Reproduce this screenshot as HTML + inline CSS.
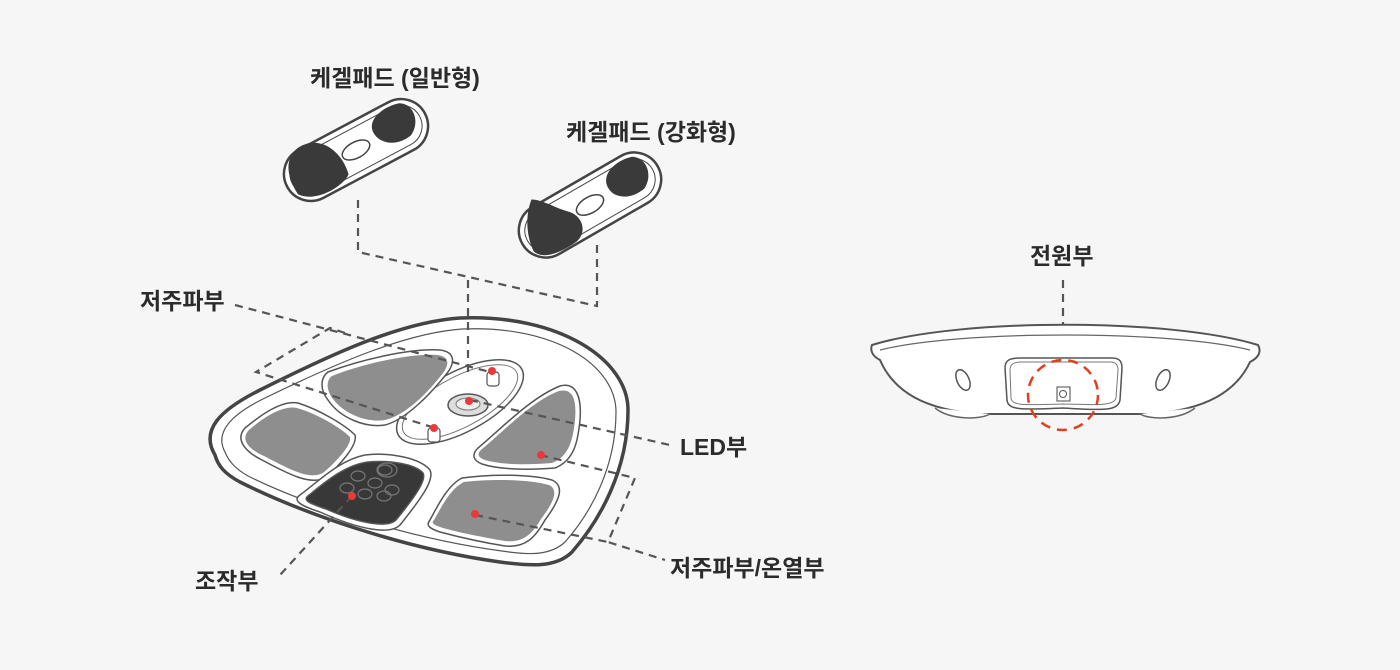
<!DOCTYPE html>
<html><head><meta charset="utf-8"><style>
html,body{margin:0;padding:0;background:#f6f6f6;}
svg{display:block}
text{font-family:"Liberation Sans","Noto Sans CJK KR",sans-serif;font-weight:bold;fill:#2b2b2b;font-size:23px}
</style></head><body>
<svg width="1400" height="670" viewBox="0 0 1400 670" xmlns="http://www.w3.org/2000/svg">
<rect width="1400" height="670" fill="#f6f6f6"/>

<!-- labels -->
<text x="310" y="86">케겔패드 (일반형)</text>
<text x="566" y="140">케겔패드 (강화형)</text>
<text x="140" y="309">저주파부</text>
<text x="680" y="455">LED부</text>
<text x="670" y="576">저주파부/온열부</text>
<text x="195" y="589">조작부</text>
<text x="1030" y="264">전원부</text>

<!-- kegel pad 1 -->
<g transform="translate(356,150) rotate(-28)">
  <rect x="-78" y="-27" width="156" height="54" rx="27" fill="#fff" stroke="#444" stroke-width="2.5"/>
  <rect x="-72" y="-21" width="144" height="42" rx="21" fill="none" stroke="#444" stroke-width="1"/>
  <path d="M-72,12 C-75,-20 -58,-34 -38,-28 C-20,-22 -14,0 -18,18 C-28,26 -60,28 -72,12Z" fill="#3a3a3a"/>
  <path d="M26,2 C16,-18 38,-27 60,-21 C73,-14 70,6 55,13 C44,15 32,12 26,2Z" fill="#3a3a3a"/>
  <ellipse cx="0" cy="0" rx="15" ry="8" fill="#fff" stroke="#444" stroke-width="1.5"/>
</g>
<!-- kegel pad 2 -->
<g transform="translate(590,205) rotate(-30)">
  <rect x="-78" y="-27" width="156" height="54" rx="27" fill="#fff" stroke="#444" stroke-width="2.5"/>
  <rect x="-72" y="-21" width="144" height="42" rx="21" fill="none" stroke="#444" stroke-width="1"/>
  <path d="M-72,12 C-70,-10 -58,-26 -48,-34 C-38,-28 -32,-15 -22,-5 C-12,5 -15,22 -30,25 C-50,27 -68,24 -72,12Z" fill="#3a3a3a"/>
  <path d="M26,2 C18,-18 40,-27 60,-21 C73,-14 70,6 55,13 C44,15 32,12 26,2Z" fill="#3a3a3a"/>
  <ellipse cx="0" cy="0" rx="15" ry="8" fill="#fff" stroke="#444" stroke-width="1.5"/>
</g>

<!-- main device -->
<path d="M215,455 C200,430 220,410 260,390 C330,355 400,322 460,318 C560,314 628,360 628,410 C628,470 600,520 572,552 C556,568 530,566 500,562 C400,548 300,512 240,482 C225,474 218,466 215,455Z" fill="#fff" stroke="#444" stroke-width="3.5"/>
<path d="M225,452 C214,432 232,414 265,398 C335,364 405,333 462,329 C556,325 616,366 616,412 C616,468 590,514 565,542 C550,556 528,555 502,551 C405,538 305,504 248,476 C236,469 229,462 225,452Z" fill="none" stroke="#555" stroke-width="1.2"/>

<!-- central oval -->
<g transform="translate(460,402) rotate(-28)">
  <ellipse rx="70" ry="30" fill="#fff" stroke="#555" stroke-width="1.5"/>
  <ellipse rx="64" ry="25" fill="none" stroke="#777" stroke-width="1"/>
</g>
<ellipse cx="468" cy="405" rx="20" ry="11" fill="#ddd" stroke="#555" stroke-width="1.5"/>
<ellipse cx="468" cy="404" rx="12" ry="6" fill="#eee" stroke="#777" stroke-width="1"/>
<rect x="487" y="372" width="12" height="14" rx="3" fill="#fff" stroke="#555" stroke-width="1.2"/>
<rect x="428" y="428" width="12" height="14" rx="3" fill="#fff" stroke="#555" stroke-width="1.2"/>

<!-- pads -->
<g stroke="#555" stroke-width="1.5" stroke-linejoin="round">
<path d="M328,372 C360,360 410,348 440,350 C455,352 455,362 448,372 C430,395 405,420 385,425 C365,428 340,418 328,400 C320,390 320,378 328,372Z" fill="#fff"/>
<path d="M332,376 C362,364 410,353 438,355 C450,357 449,365 443,373 C427,394 404,416 385,420 C367,423 344,414 333,399 C326,390 326,380 332,376Z" fill="#8e8e8e" stroke="none"/>
<path d="M245,428 C262,414 282,400 298,403 C320,410 345,425 355,435 C358,445 340,465 325,478 C310,485 290,475 262,460 C242,450 236,438 245,428Z" fill="#fff"/>
<path d="M249,430 C264,417 283,405 297,408 C318,414 341,428 350,437 C352,445 336,462 323,473 C309,480 291,470 264,456 C246,448 241,438 249,430Z" fill="#8e8e8e" stroke="none"/>
<path d="M300,495 C320,480 340,460 365,455 C390,452 420,458 430,470 C435,480 420,500 400,525 C390,535 360,530 320,512 C298,505 293,500 300,495Z" fill="#fff"/>
<path d="M308,496 C325,482 345,465 368,462 C390,460 415,464 423,473 C427,480 414,498 396,520 C388,528 360,524 326,509 C308,503 303,500 308,496Z" fill="#383838" stroke="#555"/>
<path d="M478,448 C500,430 530,398 560,386 C575,382 582,395 580,420 C578,440 575,460 555,468 C530,470 500,470 482,464 C472,460 472,454 478,448Z" fill="#fff"/>
<path d="M482,449 C504,431 532,401 559,391 C572,388 577,398 575,420 C573,438 570,456 552,463 C528,465 502,465 485,460 C477,457 477,453 482,449Z" fill="#8e8e8e" stroke="none"/>
<path d="M430,520 C438,505 448,485 462,478 C490,474 530,474 552,480 C565,486 560,500 545,520 C535,538 525,548 505,546 C480,542 455,536 440,532 C428,528 426,525 430,520Z" fill="#fff"/>
<path d="M434,520 C442,506 451,488 464,482 C491,479 528,479 549,485 C559,490 554,502 541,519 C532,535 522,543 505,541 C481,537 457,532 443,528 C433,525 431,523 434,520Z" fill="#8e8e8e" stroke="none"/>
</g>
<!-- control buttons -->
<g fill="none" stroke="#777" stroke-width="1.2">
<ellipse cx="358" cy="476" rx="7" ry="5"/><ellipse cx="385" cy="470" rx="7" ry="5"/>
<ellipse cx="347" cy="488" rx="7" ry="5"/><ellipse cx="375" cy="483" rx="7" ry="5"/>
<ellipse cx="365" cy="494" rx="7" ry="5"/><ellipse cx="392" cy="490" rx="7" ry="5"/>
<ellipse cx="384" cy="496" rx="7" ry="5"/><ellipse cx="387" cy="470" rx="10" ry="7"/>
</g>

<!-- dashed lines -->
<g fill="none" stroke="#555" stroke-width="2.2" stroke-dasharray="8,6">
<polyline points="358,200 358,252 597,306 597,244"/>
<line x1="468" y1="280" x2="468" y2="372"/>
<line x1="235" y1="305" x2="490" y2="372"/>
<polyline points="345,333 330,328 256,372 435,428"/>
<line x1="470" y1="400" x2="670" y2="445"/>
<polyline points="540,455 635,478 608,542 665,560"/>
<line x1="475" y1="515" x2="608" y2="542"/>
<line x1="352" y1="496" x2="280" y2="575"/>
<line x1="1063" y1="280" x2="1063" y2="392"/>
</g>
<!-- red dots -->
<g fill="#e83a3a">
<circle cx="492" cy="371" r="4"/><circle cx="469" cy="401" r="4"/><circle cx="434" cy="428" r="4"/>
<circle cx="541" cy="455" r="4"/><circle cx="475" cy="514" r="4"/><circle cx="352" cy="496" r="4"/>
</g>

<!-- right device -->
<path d="M872,345 C960,318 1170,318 1258,345 C1262,352 1258,358 1250,362 C1236,392 1205,410 1150,414 L980,414 C925,410 894,392 880,360 C872,356 870,350 872,345Z" fill="#fff" stroke="#555" stroke-width="2"/>
<path d="M880,350 C960,330 1170,330 1250,350" fill="none" stroke="#666" stroke-width="1.2"/>
<path d="M935,408 C950,420 980,420 990,414 M1140,414 C1150,420 1180,420 1195,408" fill="#fff" stroke="#666" stroke-width="1.5"/>
<path d="M1005,368 C1005,360 1010,358 1020,358 L1112,358 C1120,358 1122,362 1122,368 L1120,400 C1118,412 1100,410 1063,408 C1020,410 1008,410 1007,400Z" fill="#fff" stroke="#555" stroke-width="1.5"/>
<path d="M1010,370 C1010,364 1014,362 1022,362 L1110,362 C1116,362 1118,365 1118,370 L1116,398 C1114,406 1098,405 1063,404 C1024,405 1012,406 1011,398Z" fill="none" stroke="#777" stroke-width="1"/>
<ellipse cx="963" cy="380" rx="6" ry="11" transform="rotate(-25 963 380)" fill="#fff" stroke="#555" stroke-width="1.5"/>
<ellipse cx="1163" cy="380" rx="6" ry="11" transform="rotate(25 1163 380)" fill="#fff" stroke="#555" stroke-width="1.5"/>
<rect x="1057" y="387" width="13" height="14" fill="#fff" stroke="#666" stroke-width="1.2"/>
<circle cx="1063" cy="394" r="3.5" fill="none" stroke="#555" stroke-width="1"/>
<circle cx="1063" cy="395" r="35" fill="none" stroke="#e0401e" stroke-width="2.5" stroke-dasharray="10,7"/>
</svg>
</body></html>
